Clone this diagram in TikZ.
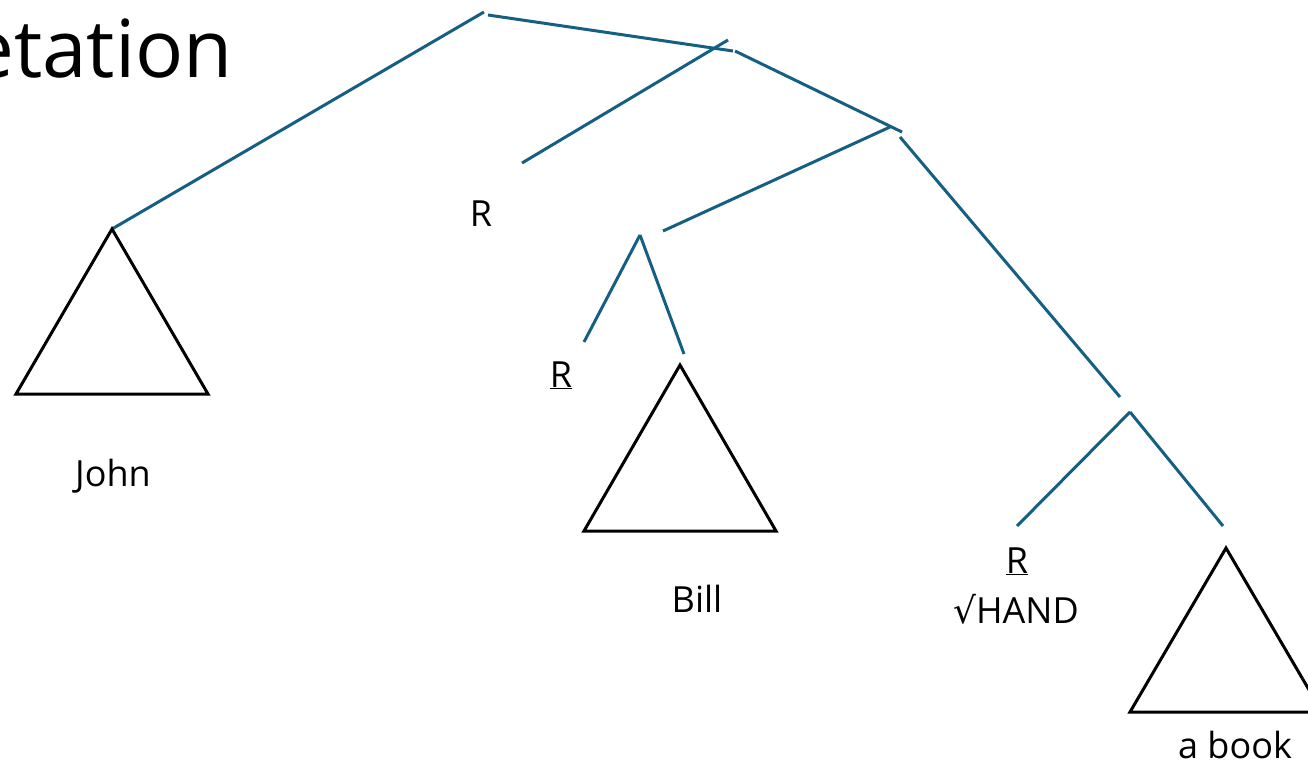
\documentclass[tikz,border=0pt]{standalone}
\usepackage{fontspec}
\setmainfont{Open Sans}
\newfontfamily\symfont{DejaVu Sans}
\usepackage{xcolor}
\usepackage{tikz}
\usetikzlibrary{positioning}
\definecolor{treeblue}{HTML}{156082}

\begin{document}
\begin{tikzpicture}[x=1pt, y=-1pt,
		branch/.style={draw=treeblue, line width=3pt},
		tri/.style={draw=black, line width=3pt, line join=miter},
		lbl/.style={anchor=base, inner sep=0pt, font=\fontsize{36}{40}\selectfont}]
		\useasboundingbox (0,0) rectangle (1308,763);
		\clip (0,0) rectangle (1308,763);
		
		\node[anchor=base east, inner sep=0pt, font=\fontsize{80}{90}\selectfont] (title) at (233,77) {etation};
		
		\coordinate (topL) at (484,12);
		\coordinate (topR) at (488,15);
		\coordinate (midA) at (733,51);
		\coordinate (midB) at (728,40);
		\coordinate (midC) at (735,51);
		\coordinate (rEnd) at (522,163);
		\coordinate (lowA) at (902,132);
		\coordinate (lowB) at (890,127);
		\coordinate (lowC) at (900,137);
		\coordinate (billTop) at (663,231);
		\coordinate (bookTop) at (1120,397);
		\coordinate (vBill) at (640,235);
		\coordinate (rBillEnd) at (584,342);
		\coordinate (billEnd) at (684,354);
		\coordinate (vBook) at (1130,412);
		\coordinate (handEnd) at (1017,526);
		\coordinate (bookEnd) at (1223,526);
		
		\coordinate (john) at (112,229);
		\coordinate (bill) at (680,365);
		\coordinate (book) at (1226,548);
		
		\draw[branch] (topL) -- (john);
		\draw[branch] (topR) -- (midA);
		\draw[branch] (midB) -- (rEnd);
		\draw[branch] (midC) -- (lowA);
		\draw[branch] (lowB) -- (billTop);
		\draw[branch] (lowC) -- (bookTop);
		\draw[branch] (vBill) -- (rBillEnd);
		\draw[branch] (vBill) -- (billEnd);
		\draw[branch] (vBook) -- (handEnd);
		\draw[branch] (vBook) -- (bookEnd);
		
		\draw[tri] (john) -- ++(-96,165) -- ++(192,0) -- cycle;
		\draw[tri] (bill) -- ++(-96,166) -- ++(192,0) -- cycle;
		\draw[tri] (book) -- ++(-96,164) -- ++(192,0) -- cycle;
		
		\node[lbl] (rTop) at (481,226) {R};
		\node[lbl] (johnLbl) at (113,486) {John};
		\node[lbl] (rBill) at (561,387) {\underline{R}};
		\node[lbl] (billLbl) at (697,612) {Bill};
		\node[lbl] (rHand) at (1017,573) {\underline{R}};
		\node[lbl] (hand) at (1016,623) {{\symfont √}HAND};
		\node[lbl] (bookLbl) at (1235,758) {a book};
	\end{tikzpicture}
\end{document}
